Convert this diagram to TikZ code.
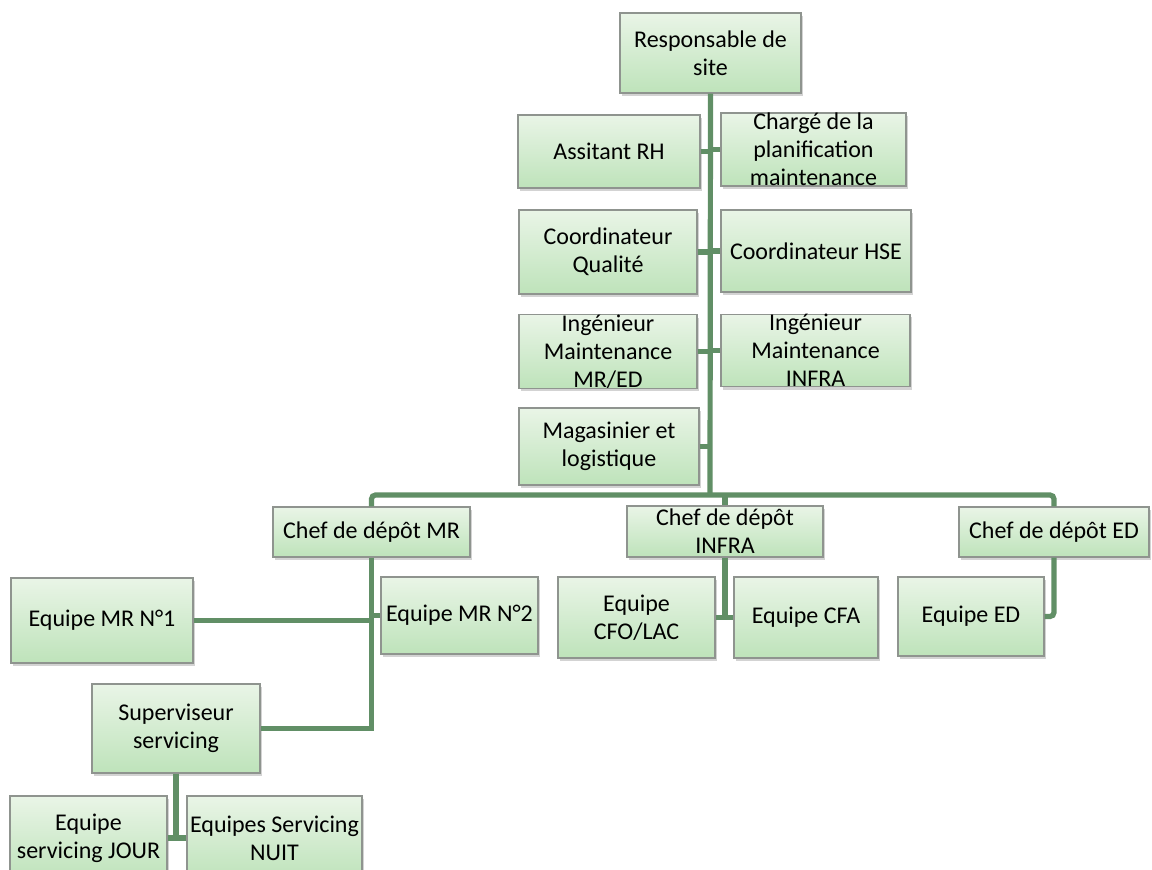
\documentclass[tikz,border=0pt]{standalone}
\usepackage{fontspec}
\setmainfont{Carlito}
\usetikzlibrary{shadows}
\newlength{\du}
\setlength{\du}{0.5pt}

\begin{document}
\begin{tikzpicture}[
  poste/.style={draw=bordcolor, line width=0.6pt, top color=hautcolor, bottom color=bascolor,
    align=center, inner sep=0pt, font=\fontsize{12}{14}\selectfont,
    drop shadow={opacity=0.35, shadow xshift=0.8pt, shadow yshift=-1.6pt}},
  lien/.style={draw=dialinecolor, line width=2.6pt}
]
\pgftransformxscale{1.000000}
\pgftransformyscale{-1.000000}
\definecolor{dialinecolor}{rgb}{0.380000, 0.560000, 0.400000}
\definecolor{bordcolor}{rgb}{0.560000, 0.580000, 0.560000}
\definecolor{hautcolor}{rgb}{0.915000, 0.960000, 0.905000}
\definecolor{bascolor}{rgb}{0.745000, 0.890000, 0.730000}
\useasboundingbox (0.000000\du,0.000000\du) rectangle (1152.000000\du,870.000000\du);
% direction du site
\node[poste, minimum width=181\du, minimum height=80\du] (resp) at (710.500000\du,53.000000\du) {Responsable de\\site};
\node[poste, minimum width=182\du, minimum height=73\du] (rh) at (609.000000\du,151.500000\du) {Assitant RH};
\node[poste, minimum width=185\du, minimum height=71\du] (plan) at (813.500000\du,149.500000\du) {Chargé de la\\planification\\maintenance};
\node[poste, minimum width=178\du, minimum height=84\du] (qual) at (608.000000\du,252.000000\du) {Coordinateur\\Qualité};
\node[poste, minimum width=190\du, minimum height=82\du] (hse) at (816.000000\du,251.000000\du) {Coordinateur HSE};
\node[poste, minimum width=178\du, minimum height=73\du] (ingmr) at (608.000000\du,351.500000\du) {Ingénieur\\Maintenance\\MR/ED};
\node[poste, minimum width=189\du, minimum height=71\du] (inginfra) at (815.500000\du,350.500000\du) {Ingénieur\\Maintenance\\INFRA};
\node[poste, minimum width=180\du, minimum height=77\du] (mag) at (609.000000\du,446.500000\du) {Magasinier et\\logistique};
% chefs de depot
\node[poste, minimum width=197\du, minimum height=50\du] (chefmr) at (371.500000\du,532.000000\du) {Chef de dépôt MR};
\node[poste, minimum width=196\du, minimum height=51\du] (chefinfra) at (725.000000\du,531.500000\du) {Chef de dépôt\\INFRA};
\node[poste, minimum width=190\du, minimum height=50\du] (chefed) at (1054.000000\du,532.000000\du) {Chef de dépôt ED};
% equipes
\node[poste, minimum width=182\du, minimum height=85\du] (mr1) at (102.000000\du,620.500000\du) {Equipe MR N°1};
\node[poste, minimum width=157\du, minimum height=77\du] (mr2) at (459.500000\du,615.500000\du) {Equipe MR N°2};
\node[poste, minimum width=157\du, minimum height=81\du] (cfo) at (636.500000\du,617.500000\du) {Equipe\\CFO/LAC};
\node[poste, minimum width=144\du, minimum height=81\du] (cfa) at (806.000000\du,617.500000\du) {Equipe CFA};
\node[poste, minimum width=146\du, minimum height=79\du] (eqed) at (971.000000\du,616.500000\du) {Equipe ED};
\node[poste, minimum width=168\du, minimum height=89\du] (sup) at (176.000000\du,728.500000\du) {Superviseur\\servicing};
\node[poste, minimum width=157\du, minimum height=84\du] (jour) at (88.500000\du,838.000000\du) {Equipe\\servicing JOUR};
\node[poste, minimum width=175\du, minimum height=84\du] (nuit) at (274.500000\du,838.000000\du) {Equipes Servicing\\NUIT};
\coordinate (bus) at (710.000000\du,495.000000\du);
% liens
\draw[lien] (resp.south) -- (bus);
\draw[lien, rounded corners=2pt] (chefmr.north) |- (bus) -| (chefed.north);
\draw[lien] (chefinfra.north) -- (chefinfra.north |- bus);
\draw[lien] (rh.east) -- (rh.east -| bus);
\draw[lien] (plan.west) -- (plan.west -| bus);
\draw[lien] (qual.east) -- (qual.east -| bus);
\draw[lien] (hse.west) -- (hse.west -| bus);
\draw[lien] (ingmr.east) -- (ingmr.east -| bus);
\draw[lien] (inginfra.west) -- (inginfra.west -| bus);
\draw[lien] (mag.east) -- (mag.east -| bus);
\draw[lien] (chefmr.south) |- (sup.east);
\draw[lien] (mr1.east) -- (mr1.east -| chefmr.south);
\draw[lien] (mr2.west) -- (mr2.west -| chefmr.south);
\draw[lien] (chefinfra.south) -- (chefinfra.south |- cfo.east);
\draw[lien] (cfo.east) -- (cfo.east -| chefinfra.south);
\draw[lien] (cfa.west) -- (cfa.west -| chefinfra.south);
\draw[lien, rounded corners=2pt] (chefed.south) |- (eqed.east);
\draw[lien] (sup.south) -- (sup.south |- jour.east);
\draw[lien] (jour.east) -- (nuit.west);
\end{tikzpicture}
\end{document}
